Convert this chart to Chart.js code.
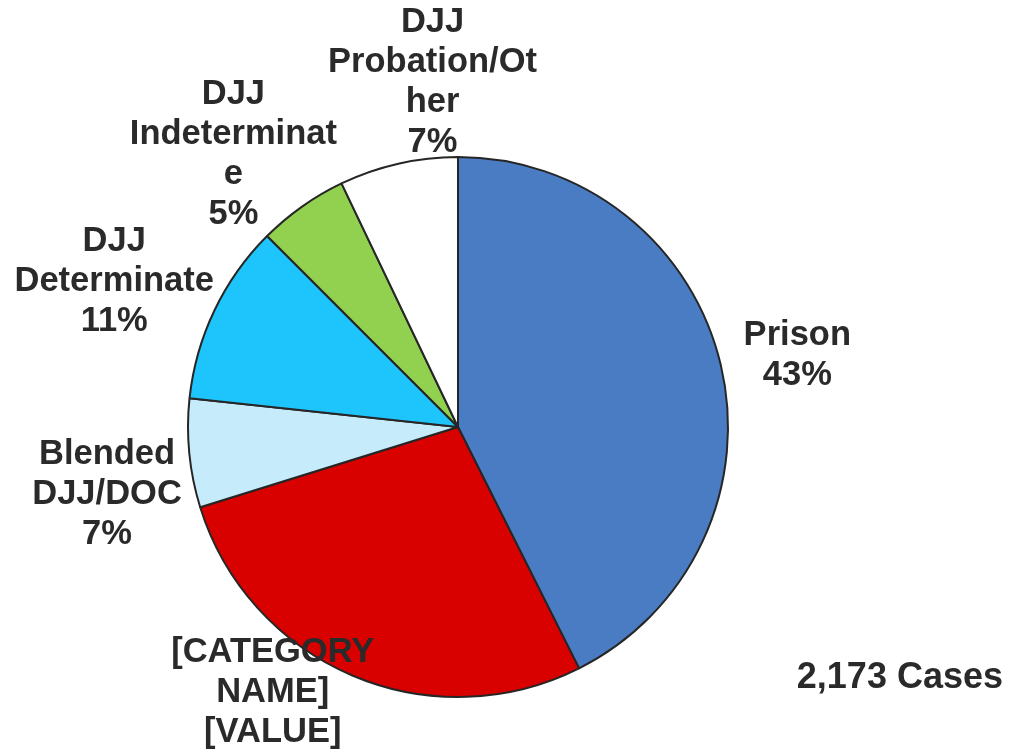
<!DOCTYPE html>
<html>
<head>
<meta charset="utf-8">
<script src="https://cdn.jsdelivr.net/npm/chart.js@4.4.0/dist/chart.umd.min.js"></script>
<style>
  html, body { margin: 0; padding: 0; background: #ffffff; }
  #wrap { width: 1009px; height: 755px; position: relative; }
</style>
</head>
<body>
<div id="wrap"><canvas id="pieChart" width="1009" height="755"></canvas></div>
<script>
// Data (share of 2,173 cases, clockwise from 12 o'clock)
const categories = ['Prison', '[CATEGORY NAME]', 'Blended DJJ/DOC', 'DJJ Determinate', 'DJJ Indeterminate', 'DJJ Probation/Other'];
const shares = [42.6, 27.6, 6.5, 10.8, 5.4, 7.1];
// label text as wrapped in the original
const labelLines = [
    ['Prison', '43%'],
    ['[CATEGORY', 'NAME]', '[VALUE]'],
    ['Blended', 'DJJ/DOC', '7%'],
    ['DJJ', 'Determinate', '11%'],
    ['DJJ', 'Indeterminat', 'e', '5%'],
    ['DJJ', 'Probation/Ot', 'her', '7%']
];
const sliceColors = ['#4a7cc4', '#d90000', '#c6ecfc', '#1ec5fc', '#92d050', '#ffffff'];
const caseNote = '2,173 Cases';

// nudges from the radial label point (px)
const labelNudge = [[3, 8], [-50, -53], [-7, 34], [-32, 4], [-25, 10], [51, -7]];

const textColor = '#2a2a2a';
const labelFont = "bold 34.5px 'Liberation Sans', Arial, sans-serif";
const noteFont = "bold 36px 'Liberation Sans', Arial, sans-serif";

const outsideLabels = {
    id: 'outsideLabels',
    afterDatasetsDraw(chart) {
        const ctx = chart.ctx;
        const arcs = chart.getDatasetMeta(0).data;
        ctx.save();
        ctx.font = labelFont;
        ctx.fillStyle = textColor;
        ctx.textAlign = 'center';
        ctx.textBaseline = 'middle';
        const lineH = 40;
        arcs.forEach((arc, i) => {
            const mid = (arc.startAngle + arc.endAngle) / 2;
            const r = arc.outerRadius * 1.28;
            const cx = arc.x + Math.cos(mid) * r + labelNudge[i][0];
            const cy = arc.y + Math.sin(mid) * r + labelNudge[i][1];
            const lines = labelLines[i];
            const top = cy - (lines.length - 1) * lineH / 2;
            lines.forEach((t, k) => ctx.fillText(t, cx, top + k * lineH));
        });
        // case count note, bottom right
        ctx.font = noteFont;
        ctx.textAlign = 'right';
        ctx.fillText(caseNote, chart.width - 6, 678);
        ctx.restore();
    }
};

const ctxPie = document.getElementById('pieChart').getContext('2d');
const pieChart = new Chart(ctxPie, {
    type: 'pie',
    data: {
        labels: categories,
        datasets: [{
            data: shares,
            backgroundColor: sliceColors,
            borderColor: '#262626',
            borderWidth: 2,
            hoverOffset: 0
        }]
    },
    options: {
        responsive: false,
        animation: false,
        layout: { padding: { left: 187, right: 280, top: 156, bottom: 57 } },
        plugins: {
            legend: { display: false },
            tooltip: { enabled: false }
        }
    },
    plugins: [outsideLabels]
});
</script>
</body>
</html>
